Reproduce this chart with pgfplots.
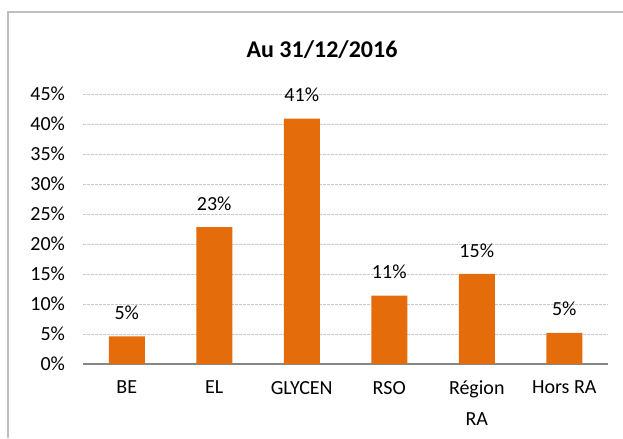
\documentclass[border=0pt]{standalone}
\usepackage{pgfplots}
\pgfplotsset{compat=1.18}
\usepackage{fontspec}
\setmainfont{Carlito}
\definecolor{barorange}{HTML}{E46C0A}
\definecolor{axisgrey}{HTML}{868686}
\definecolor{gridgrey}{HTML}{C8C8C8}
\definecolor{bordergrey}{HTML}{BFBFBF}
\begin{document}
\begin{tikzpicture}[x=0.75pt,y=0.75pt]
\draw[bordergrey,line width=1.5pt] (8,0) -- (8,426) -- (623,426);
\node[font=\fontsize{18}{21}\selectfont\bfseries] at (322,388) {Au 31/12/2016};
\begin{axis}[
  at={(62.25pt,55.5pt)}, anchor=south west,
  scale only axis, width=393.75pt, height=202.5pt,
  ymin=0, ymax=45, ytick={0,5,...,45},
  yticklabel={\pgfmathprintnumber{\tick}\%},
  xmin=-0.5, xmax=5.5,
  xtick={0,1,2,3,4,5},
  xticklabels={BE,EL,GLYCEN,RSO,{Région\\RA},Hors RA},
  extra x ticks={-0.5,0.5,1.5,2.5,3.5,4.5,5.5},
  extra x tick labels={},
  extra x tick style={major tick length=5pt, tick style={axisgrey,line width=1pt}, grid=none, tick align=outside},
  major x tick style={draw=none},
  ytick style={draw=none},
  axis x line*=bottom, axis y line*=left,
  x axis line style={axisgrey,line width=1pt,-},
  y axis line style={draw=none},
  ymajorgrids, grid style={gridgrey,dash pattern=on 2pt off 1pt,line width=0.5pt},
  tick label style={font=\fontsize{15}{17}\selectfont},
  /pgf/number format/assume math mode=true,
  xticklabel style={align=center, yshift=-5pt, font=\fontsize{15}{23}\selectfont},
  yticklabel style={xshift=-10pt},
  ybar, bar width=27pt,
  nodes near coords={\pgfmathprintnumber[fixed,precision=0]{\pgfplotspointmeta}\%},
  nodes near coords style={font=\fontsize{15}{17}\selectfont, black, yshift=9pt},
  clip=false,
]
\addplot[fill=barorange, draw=none, point meta=explicit] coordinates {
 (0,4.6) [5] (1,22.8) [23] (2,40.9) [41] (3,11.4) [11] (4,15.0) [15] (5,5.2) [5]
};
\end{axis}
\pgfresetboundingbox
\path[use as bounding box] (0,0) rectangle (623,438);
\end{tikzpicture}
\end{document}
